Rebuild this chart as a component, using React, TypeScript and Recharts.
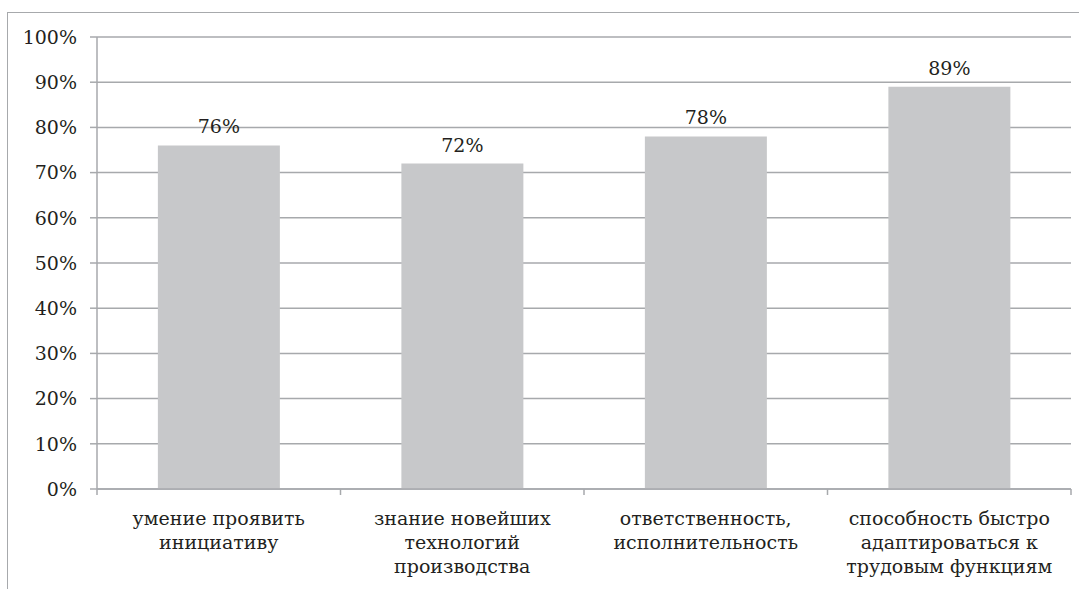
import React from "react";
import { BarChart, Bar, XAxis, YAxis, CartesianGrid, LabelList } from "recharts";

const categories = [
  "умение проявить\nинициативу",
  "знание новейших\nтехнологий\nпроизводства",
  "ответственность,\nисполнительность",
  "способность быстро\nадаптироваться к\nтрудовым функциям",
];
const values = [76, 72, 78, 89];
const edges = [0, 1, 2, 3];
const yTicks = [0, 10, 20, 30, 40, 50, 60, 70, 80, 90, 100];
const boundaryTicks = [0, 1, 2, 3, 4];

const data = categories.map((c, i) => ({ name: c, value: values[i], edge: edges[i] }));

const FONT = "DejaVu Serif";
const FS = 19;
const TEXT = "#231f20";
const GRID = "#a7a9ac";

const EmptyTick = () => <g />;

const CatTick = (props: any) => {
  const { x, y, payload } = props;
  const lines = String(payload.value).split("\n");
  return (
    <text x={x} y={y} textAnchor="middle" fontFamily={FONT} fontSize={FS} fill={TEXT}>
      {lines.map((l, i) => (
        <tspan key={i} x={x} dy={i === 0 ? 28 : 24}>
          {l}
        </tspan>
      ))}
    </text>
  );
};

export default function App() {
  return (
    <div style={{ position: "absolute", left: 0, top: 0, width: 1079, height: 589, background: "#fff", overflow: "hidden" }}>
      <div
        style={{
          position: "absolute",
          left: 7,
          top: 12,
          width: 1200,
          height: 700,
          borderLeft: `1.5px solid ${GRID}`,
          borderTop: `1.5px solid ${GRID}`,
        }}
      />
      <div style={{ position: "absolute", left: 0, top: 0 }}>
        <BarChart
          width={1079}
          height={589}
          data={data}
          margin={{ top: 37, right: 8, bottom: 10, left: 7 }}
          barCategoryGap="25%"
        >
          <CartesianGrid vertical={false} stroke={GRID} strokeWidth={1.5} />
          <XAxis
            xAxisId="b"
            type="number"
            dataKey="edge"
            domain={[0, 4]}
            allowDataOverflow
            ticks={boundaryTicks}
            height={8}
            tick={<EmptyTick />}
            tickSize={6}
            axisLine={{ stroke: GRID, strokeWidth: 1.5 }}
            tickLine={{ stroke: GRID, strokeWidth: 1.5 }}
          />
          <XAxis
            dataKey="name"
            xAxisId="cat"
            height={82}
            tickLine={false}
            axisLine={false}
            tickSize={0}
            tickMargin={0}
            tick={<CatTick />}
            interval={0}
          />
          <YAxis
            width={90}
            domain={[0, 100]}
            ticks={yTicks}
            tickFormatter={(v: number) => `${v}%`}
            tickSize={7}
            tickMargin={13}
            axisLine={{ stroke: GRID, strokeWidth: 1.5 }}
            tickLine={{ stroke: GRID, strokeWidth: 1.5 }}
            tick={{ fontSize: FS, fill: TEXT, fontFamily: FONT }}
            interval={0}
          />
          <Bar dataKey="value" xAxisId="cat" fill="#c7c8ca" isAnimationActive={false}>
            <LabelList
              dataKey="value"
              position="top"
              offset={12}
              formatter={(v: any) => `${v}%`}
              fontFamily={FONT}
              fontSize={FS}
              fill={TEXT}
            />
          </Bar>
        </BarChart>
      </div>
    </div>
  );
}
